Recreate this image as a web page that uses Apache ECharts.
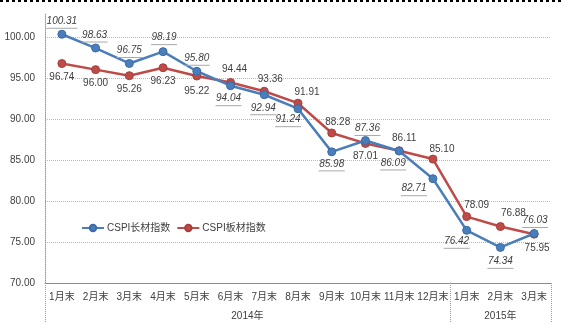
<!DOCTYPE html>
<html>
<head>
<meta charset="utf-8">
<script src="https://cdn.jsdelivr.net/npm/echarts@6/dist/echarts.min.js"></script>
<style>
  html, body { margin: 0; padding: 0; background: #fff; }
  #chart { width: 564px; height: 325px; }
</style>
</head>
<body>
<div id="chart"></div>
<script>
// Month-end categories and the two groups they belong to
const months = ['1月末', '2月末', '3月末', '4月末', '5月末', '6月末', '7月末', '8月末', '9月末', '10月末', '11月末', '12月末', '1月末', '2月末', '3月末'];
const years = ['2014年', '2015年'];
const yearSpans = [12, 3];

// CSPI index values
const seriesNames = ['CSPI长材指数', 'CSPI板材指数'];
const longSteel = [100.31, 98.63, 96.75, 98.19, 95.80, 94.04, 92.94, 91.24, 85.98, 87.36, 86.09, 82.71, 76.42, 74.34, 76.03];
const plateSteel = [96.74, 96.00, 95.26, 96.23, 95.22, 94.44, 93.36, 91.91, 88.28, 87.01, 86.11, 85.10, 78.09, 76.88, 75.95];

// Value axis ticks
const yMin = 70, yStep = 5;

// Label placement relative to each marker (pixels)
const longLabelOffsets = [[0,-13],[-1,-13],[0,-13],[1,-14],[0,-13],[-2,13],[-1,13],[-10,11],[0,12],[2,-12],[-6,12],[-19,10],[-10,11],[0,14],[1,-13]];
const plateLabelOffsets = [[0,14],[0,14],[0,14],[0,14],[0,15],[4,-13],[6,-12],[9,-11],[6,-11],[0,13],[5,-13],[9,-10],[10,-11],[13,-13],[3,14]];

const FONT = '"Liberation Sans", "Noto Sans CJK SC", sans-serif';
const TXT = '#404040';
const BLUE = '#4A7EBB';
const RED = '#BE4B48';

// group boundaries on the secondary axis
const bounds = [0];
yearSpans.forEach(s => bounds.push(bounds[bounds.length - 1] + s));
const yearCenters = yearSpans.map((s, i) => bounds[i] + s / 2);

function longData() {
  return longSteel.map((v, i) => {
    const txt = v.toFixed(2);
    return {
      value: v,
      label: {
        show: true,
        position: 'inside',
        offset: [longLabelOffsets[i][0], longLabelOffsets[i][1] + 1],
        formatter: '{v|' + txt + '}\n{u|}',
        rich: {
          v: { fontFamily: FONT, fontSize: 10, fontStyle: 'italic', color: TXT, lineHeight: 12, align: 'center' },
          u: { width: txt.length * 5.2, height: 1, lineHeight: 2, backgroundColor: '#a8a8a8', align: 'center' }
        }
      }
    };
  });
}

function plateData() {
  return plateSteel.map((v, i) => ({
    value: v,
    label: {
      show: true,
      position: 'inside',
      offset: plateLabelOffsets[i],
      formatter: p => p.value.toFixed(2),
      fontFamily: FONT, fontSize: 10, color: TXT
    }
  }));
}

const chart = echarts.init(document.getElementById('chart'), null, { renderer: 'canvas' });
chart.setOption({
  animation: false,
  backgroundColor: '#fff',
  textStyle: { fontFamily: FONT },
  graphic: [{
    type: 'line',
    shape: { x1: 0, y1: 1, x2: 564, y2: 1 },
    style: { stroke: '#000', lineWidth: 2, lineDash: [3, 3] },
    silent: true
  }],
  grid: { left: 45, right: 13, top: 13, bottom: 42, containLabel: false },
  legend: {
    left: 76, top: 218,
    itemWidth: 22, itemHeight: 8, itemGap: 6,
    textStyle: { fontFamily: FONT, fontSize: 10, color: TXT, padding: [0, 0, 0, -2] },
    data: seriesNames
  },
  xAxis: [{
    type: 'category',
    data: months,
    boundaryGap: true,
    axisLine: { show: true, lineStyle: { color: '#8c8c8c', width: 1 } },
    axisTick: { show: false },
    axisLabel: { interval: 0, margin: 9, fontFamily: FONT, fontSize: 10, color: TXT }
  }, {
    type: 'value',
    min: 0, max: bounds[bounds.length - 1],
    position: 'bottom',
    axisLine: { show: false },
    splitLine: { show: false },
    axisTick: {
      show: true, length: 40, customValues: bounds,
      lineStyle: { color: '#9a9a9a', type: 'dotted' }
    },
    axisLabel: {
      customValues: yearCenters, margin: 28,
      fontFamily: FONT, fontSize: 10, color: TXT,
      formatter: v => years[yearCenters.indexOf(v)] || ''
    }
  }],
  yAxis: {
    type: 'value',
    min: yMin, max: 102.9, interval: yStep,
    axisLine: { show: true, lineStyle: { color: '#9a9a9a', type: 'dotted' } },
    axisTick: { show: false },
    axisLabel: {
      margin: 10, fontFamily: FONT, fontSize: 10, color: TXT,
      showMaxLabel: false,
      formatter: v => (v % yStep === 0 ? v.toFixed(2) : '')
    },
    splitLine: { show: true, showMaxLine: false, lineStyle: { color: '#b8b8b8', type: 'dotted' } }
  },
  series: [{
    name: seriesNames[0],
    type: 'line',
    data: longData(),
    symbol: 'circle', symbolSize: 8,
    lineStyle: { color: BLUE, width: 2.5 },
    itemStyle: { color: BLUE, borderColor: '#3a6aa8', borderWidth: 1 },
    z: 3
  }, {
    name: seriesNames[1],
    type: 'line',
    data: plateData(),
    symbol: 'circle', symbolSize: 8,
    lineStyle: { color: RED, width: 2.5 },
    itemStyle: { color: RED, borderColor: '#a83e3b', borderWidth: 1 },
    z: 2
  }]
});
</script>
</body>
</html>
